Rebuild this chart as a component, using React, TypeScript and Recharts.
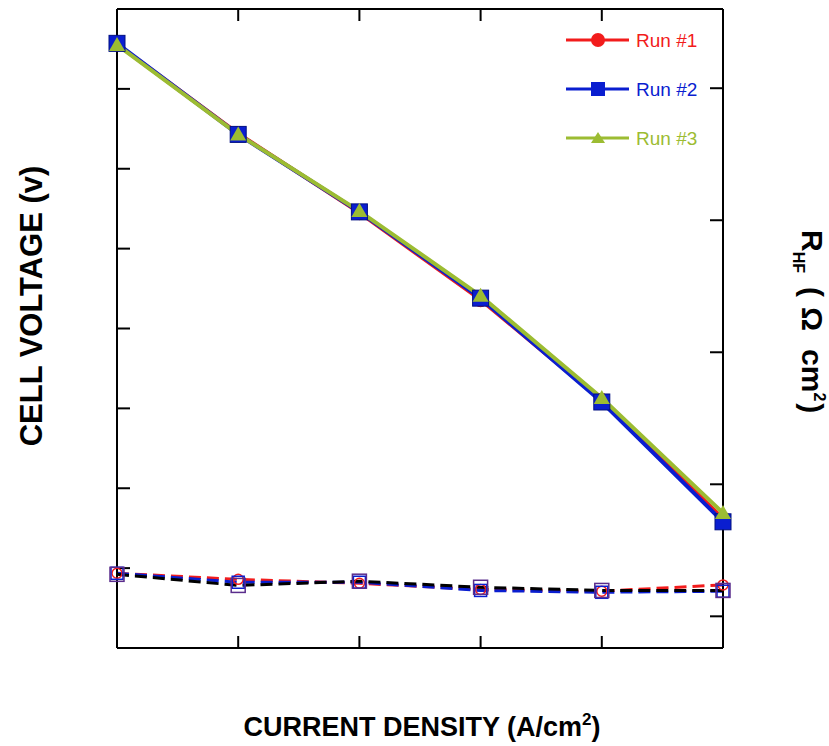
import { LineChart, Line, XAxis, YAxis, Legend } from 'recharts';

// current density points (A/cm2), evenly spaced along the axis
const currentDensity = [0, 0.2, 0.4, 0.6, 0.8, 1.0];

// cell voltage (V), solid lines
const run1Voltage = [0.956, 0.844, 0.745, 0.636, 0.510, 0.362];
const run2Voltage = [0.957, 0.843, 0.746, 0.638, 0.508, 0.358];
const run3Voltage = [0.955, 0.843, 0.747, 0.641, 0.513, 0.369];

// high frequency resistance (ohm cm2), dashed lines
const run1Hfr = [0.0663, 0.0640, 0.0625, 0.0602, 0.0595, 0.0619];
const run2Hfr = [0.0663, 0.0629, 0.0629, 0.0598, 0.0591, 0.0595];
const run3Hfr = [0.0659, 0.0617, 0.0633, 0.0610, 0.0598, 0.0598];

const voltageTicks = [0.3, 0.4, 0.5, 0.6, 0.7, 0.8, 0.9];
const hfrTicks = [0.05, 0.1, 0.15, 0.2, 0.25];
const densityTicks = [0.2, 0.4, 0.6, 0.8];

const runNames = ['Run #1', 'Run #2', 'Run #3'];

const data = currentDensity.map((x, i) => ({
  x,
  v1: run1Voltage[i],
  v2: run2Voltage[i],
  v3: run3Voltage[i],
  r1: run1Hfr[i],
  r2: run2Hfr[i],
  r3: run3Hfr[i],
}));

const RED = '#f21c1c';
const BLUE = '#0a1ed0';
const GREEN = '#9cbc32';
const FONT = '"Liberation Sans", Arial, sans-serif';

// the original has tick marks but no tick numbers
const noLabel = () => <g />;

const circleDot = (color: string) => (p: any) => (
  <circle key={`c-${p.index}`} cx={p.cx} cy={p.cy} r={7} fill={color} stroke={color} />
);
const squareDot = (color: string) => (p: any) => (
  <rect key={`s-${p.index}`} x={p.cx - 8} y={p.cy - 8} width={16} height={16} fill={color} stroke="#001080" strokeWidth={1} />
);
const triangleDot = (color: string) => (p: any) => (
  <polygon key={`t-${p.index}`} points={`${p.cx},${p.cy - 8} ${p.cx + 8},${p.cy + 6} ${p.cx - 8},${p.cy + 6}`} fill={color} />
);
const hollowCircle = (color: string) => (p: any) => (
  <circle key={`hc-${p.index}`} cx={p.cx} cy={p.cy} r={5} fill="none" stroke={color} strokeWidth={1.5} />
);
const hollowSquare = (color: string, size: number) => (p: any) => (
  <rect key={`hs-${p.index}`} x={p.cx - size / 2} y={p.cy - size / 2} width={size} height={size} fill="none" stroke={color} strokeWidth={1.5} />
);

function LegendBox() {
  const items = [
    { name: runNames[0], color: RED, mark: (cx: number, cy: number) => <circle cx={cx} cy={cy} r={7} fill={RED} /> },
    { name: runNames[1], color: BLUE, mark: (cx: number, cy: number) => <rect x={cx - 7} y={cy - 7} width={14} height={14} fill={BLUE} /> },
    { name: runNames[2], color: GREEN, mark: (cx: number, cy: number) => <polygon points={`${cx},${cy - 6} ${cx + 7},${cy + 5} ${cx - 7},${cy + 5}`} fill={GREEN} /> },
  ];
  return (
    <svg width={170} height={130}>
      {items.map((it, i) => {
        const y = 15 + i * 49;
        return (
          <g key={it.name}>
            <line x1={6} x2={69} y1={y} y2={y} stroke={it.color} strokeWidth={3} />
            {it.mark(38, y)}
            <text x={76} y={y + 7} fill={it.color} fontSize={19} fontFamily={FONT}>{it.name}</text>
          </g>
        );
      })}
    </svg>
  );
}

export default function App() {
  const axisStroke = { stroke: '#000', strokeWidth: 2 };
  return (
    <div style={{ position: 'absolute', left: 0, top: 0, width: 829, height: 746, background: '#fff' }}>
      <LineChart width={829} height={746} data={data} margin={{ top: 9, right: 106, bottom: 98, left: 117 }}>
        <XAxis xAxisId="b" dataKey="x" type="number" domain={[0, 1]} ticks={densityTicks} tick={noLabel}
          mirror tickSize={12} height={30} axisLine={axisStroke} tickLine={axisStroke} />
        <XAxis xAxisId="t" orientation="top" dataKey="x" type="number" domain={[0, 1]} ticks={densityTicks} tick={noLabel}
          mirror tickSize={12} height={30} axisLine={axisStroke} tickLine={axisStroke} />
        <YAxis yAxisId="v" type="number" domain={[0.2, 1.0]} ticks={voltageTicks} tick={noLabel}
          mirror tickSize={13} width={30} axisLine={axisStroke} tickLine={axisStroke} allowDataOverflow />
        <YAxis yAxisId="r" orientation="right" type="number" domain={[0.038, 0.28]} ticks={hfrTicks} tick={noLabel}
          mirror tickSize={13} width={30} axisLine={axisStroke} tickLine={axisStroke} allowDataOverflow />

        <Line xAxisId="b" yAxisId="r" dataKey="r1" stroke={RED} strokeWidth={3} strokeDasharray="12 6"
          dot={hollowCircle(RED)} isAnimationActive={false} />
        <Line xAxisId="b" yAxisId="r" dataKey="r2" stroke={BLUE} strokeWidth={3} strokeDasharray="12 6"
          dot={hollowSquare(BLUE, 12)} isAnimationActive={false} />
        <Line xAxisId="b" yAxisId="r" dataKey="r3" stroke="#000" strokeWidth={3} strokeDasharray="12 6"
          dot={hollowSquare('#5a2d8c', 14)} isAnimationActive={false} />

        <Line xAxisId="b" yAxisId="v" dataKey="v1" name={runNames[0]} stroke={RED} strokeWidth={4}
          dot={circleDot(RED)} isAnimationActive={false} />
        <Line xAxisId="b" yAxisId="v" dataKey="v2" name={runNames[1]} stroke={BLUE} strokeWidth={4}
          dot={squareDot(BLUE)} isAnimationActive={false} />
        <Line xAxisId="b" yAxisId="v" dataKey="v3" name={runNames[2]} stroke={GREEN} strokeWidth={4}
          dot={triangleDot(GREEN)} isAnimationActive={false} />

        <Legend layout="horizontal" verticalAlign="middle" align="center"
          wrapperStyle={{ position: 'absolute', left: 560, top: 25, width: 170, height: 130 }}
          content={() => <LegendBox />} />
      </LineChart>

      <svg width={829} height={746} style={{ position: 'absolute', left: 0, top: 0, pointerEvents: 'none' }}
        fontFamily={FONT} fontWeight="bold">
        <text transform="rotate(-90)" x={-306} y={42} textAnchor="middle" fontSize={31}>CELL VOLTAGE (v)</text>
        <text x={422} y={736} textAnchor="middle" fontSize={27}>
          CURRENT DENSITY (A/cm<tspan dy={-11} fontSize={17}>2</tspan><tspan dy={11}>)</tspan>
        </text>
        <text transform="rotate(90)" x={230} y={-802} fontSize={30}>
          R<tspan dy={9} fontSize={16}>HF</tspan>
          <tspan dy={-9} dx={14}>(</tspan>
          <tspan dx={10}>Ω</tspan>
          <tspan dx={18}>cm</tspan>
          <tspan dy={-12} fontSize={16}>2</tspan>
          <tspan dy={12} dx={2}>)</tspan>
        </text>
      </svg>
    </div>
  );
}
